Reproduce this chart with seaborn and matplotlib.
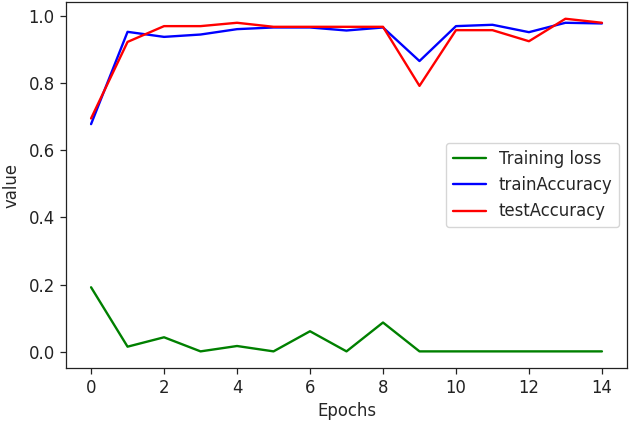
import matplotlib
matplotlib.use("Agg")
import matplotlib.pyplot as plt
import seaborn as sns
import pandas as pd

epochs = list(range(15))
training_loss = [0.192, 0.015, 0.043, 0.001, 0.017, 0.001, 0.061, 0.001, 0.087,
                 0.001, 0.001, 0.001, 0.001, 0.001, 0.001]
train_accuracy = [0.678, 0.953, 0.938, 0.945, 0.961, 0.966, 0.966, 0.957, 0.966,
                  0.866, 0.970, 0.974, 0.952, 0.980, 0.978]
test_accuracy = [0.695, 0.923, 0.970, 0.970, 0.980, 0.968, 0.968, 0.968, 0.968,
                 0.792, 0.958, 0.958, 0.925, 0.992, 0.980]
series_names = ["Training loss", "trainAccuracy", "testAccuracy"]
series_colors = ["green", "blue", "red"]

df = pd.concat([
    pd.DataFrame({"Epochs": epochs, "value": training_loss, "series": series_names[0]}),
    pd.DataFrame({"Epochs": epochs, "value": train_accuracy, "series": series_names[1]}),
    pd.DataFrame({"Epochs": epochs, "value": test_accuracy, "series": series_names[2]}),
])

sns.set_style("ticks")
plt.rcParams["font.family"] = ["DejaVu Sans"]
fs = 11.9

fig = plt.figure(figsize=(6.3, 4.23), dpi=100)
ax = fig.add_axes([0.104, 0.130, 0.892, 0.865])
sns.lineplot(data=df, x="Epochs", y="value", hue="series", hue_order=series_names,
             palette=dict(zip(series_names, series_colors)), linewidth=1.7, ax=ax)
ax.margins(x=0.05, y=0.05)
ax.set_xticks(range(0, 15, 2))
ax.set_yticks([0.0, 0.2, 0.4, 0.6, 0.8, 1.0])
ax.tick_params(labelsize=fs, length=4.2, width=0.9, colors="#222222")
ax.set_xlabel("Epochs", fontsize=fs)
ax.set_ylabel("value", fontsize=fs, labelpad=6)
ax.legend(loc="center right", fontsize=fs, frameon=True)
for s in ax.spines.values():
    s.set_visible(True)
    s.set_linewidth(0.9)
    s.set_color("#222222")
fig.savefig("out.png", dpi=100)
